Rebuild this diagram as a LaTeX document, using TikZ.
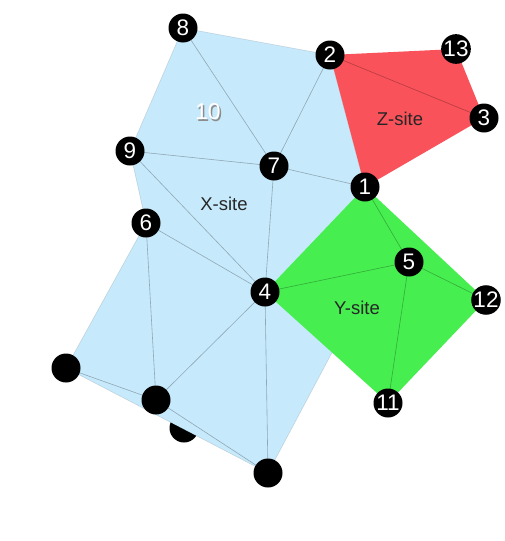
\documentclass[tikz,border=0pt]{standalone}
\usepackage{fontspec}
\setmainfont{Liberation Sans}
\definecolor{xblue}{HTML}{C6E9FB}
\definecolor{zred}{HTML}{FA525A}
\definecolor{ygreen}{HTML}{46EE4F}
\begin{document}
\begin{tikzpicture}[x=1pt,y=-1pt,
  atom/.style={circle,fill=black,minimum size=29pt,inner sep=0pt,text=white,font=\fontsize{22.5}{22.5}\selectfont},
  edge/.style={draw=black,draw opacity=0.28,line width=0.6pt},
  rim/.style={draw=black,draw opacity=0.12,line width=0.6pt},
  lbl/.style={font=\fontsize{18.5}{18.5}\selectfont,text=black!85}]
\useasboundingbox (0,0) rectangle (505,541);
% positions
\coordinate (p8) at (183,28);
\coordinate (p2) at (330,55);
\coordinate (p13) at (456,49);
\coordinate (p3) at (484,118);
\coordinate (p9) at (130,151);
\coordinate (p7) at (274,166);
\coordinate (p1) at (365,187);
\coordinate (p6) at (146,223);
\coordinate (p5) at (409,262);
\coordinate (p4) at (265,292);
\coordinate (p12) at (486,300);
\coordinate (p11) at (388,403);
\coordinate (pA) at (66,368);
\coordinate (pB) at (156,400);
\coordinate (pC) at (184,428);
\coordinate (pD) at (268,473);
\coordinate (pK) at (360,300);
% hidden atom behind the X-site
\node[atom] (nC) at (pC) {};
% X-site
\fill[xblue] (p8) -- (p2) -- (p1) -- (pK) -- (pD) -- (pA) -- (p6) -- (p9) -- cycle;
\draw[rim] (p9) -- (p8) -- (p2) -- (p1);
\draw[rim] (p9) -- (p6) -- (pA) -- (pD);
\draw[rim] (pK) -- (pD);
\draw[edge] (p8) -- (p7);
\draw[edge] (p2) -- (p7);
\draw[edge] (p9) -- (p7);
\draw[edge] (p7) -- (p1);
\draw[edge] (p9) -- (p4);
\draw[edge] (p6) -- (p4);
\draw[edge] (p7) -- (p4);
\draw[edge] (p6) -- (pB);
\draw[edge] (p4) -- (pB);
\draw[edge] (p4) -- (pD);
\draw[edge] (pA) -- (pB);
\draw[edge] (pB) -- (pD);
% Z-site
\fill[zred] (p2) -- (p13) -- (p3) -- (p1) -- cycle;
\draw[edge] (p2) -- (p3);
% Y-site
\fill[ygreen] (p1) -- (p12) -- (p11) -- (p4) -- cycle;
\draw[edge] (p1) -- (p5);
\draw[edge] (p4) -- (p5);
\draw[edge] (p5) -- (p12);
\draw[edge] (p5) -- (p11);
% labels
\node[lbl] (lx) at (224,204) {X-site};
\node[lbl] (lz) at (400,119) {Z-site};
\node[lbl] (ly) at (357,308) {Y-site};
\node[font=\fontsize{23}{23}\selectfont,text=black!45] (l10s) at (209.3,113.3) {10};
\node[font=\fontsize{23}{23}\selectfont,text=white] (l10) at (208,112) {10};
% atoms
\node[atom] (n8) at (p8) {8};
\node[atom] (n2) at (p2) {2};
\node[atom] (n13) at (p13) {13};
\node[atom] (n3) at (p3) {3};
\node[atom] (n9) at (p9) {9};
\node[atom] (n7) at (p7) {7};
\node[atom] (n1) at (p1) {1};
\node[atom] (n6) at (p6) {6};
\node[atom] (n5) at (p5) {5};
\node[atom] (n4) at (p4) {4};
\node[atom] (n12) at (p12) {12};
\node[atom] (n11) at (p11) {11};
\node[atom] (nA) at (pA) {};
\node[atom] (nB) at (pB) {};
\node[atom] (nD) at (pD) {};
\end{tikzpicture}
\end{document}
